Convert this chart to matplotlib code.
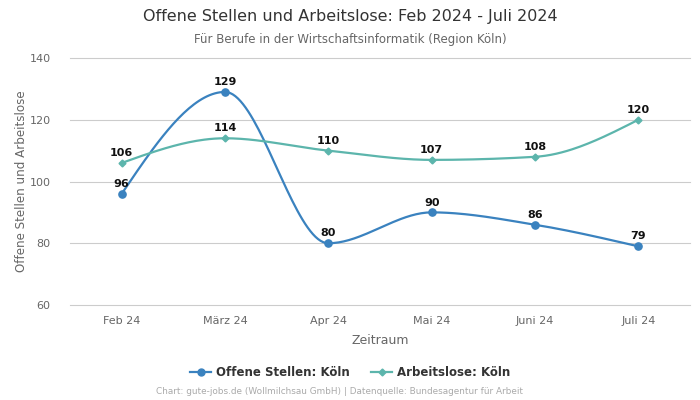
import numpy as np
import matplotlib
matplotlib.use("Agg")
import matplotlib.pyplot as plt
from matplotlib.lines import Line2D

months = ["Feb 24", "März 24", "Apr 24", "Mai 24", "Juni 24", "Juli 24"]
offene = [96, 129, 80, 90, 86, 79]
arbeitslose = [106, 114, 110, 107, 108, 120]
yticks = [60, 80, 100, 120, 140]

BLUE = "#3a82bf"
TEAL = "#5cb5ac"


def monotone(x, y, n=40):
    x = np.asarray(x, float)
    y = np.asarray(y, float)
    m = len(x)
    h = np.diff(x)
    s = np.diff(y) / h
    t = np.zeros(m)
    for i in range(1, m - 1):
        p = (s[i - 1] * h[i] + s[i] * h[i - 1]) / (h[i - 1] + h[i])
        t[i] = (np.sign(s[i - 1]) + np.sign(s[i])) * min(abs(s[i - 1]), abs(s[i]), 0.5 * abs(p))
    t[0] = (3 * s[0] - t[1]) / 2
    t[-1] = (3 * s[-1] - t[-2]) / 2
    xs, ys = [], []
    for i in range(m - 1):
        u = np.linspace(0, 1, n, endpoint=(i == m - 2))
        hh = h[i]
        h00 = 2 * u**3 - 3 * u**2 + 1
        h10 = u**3 - 2 * u**2 + u
        h01 = -2 * u**3 + 3 * u**2
        h11 = u**3 - u**2
        xs.append(x[i] + u * hh)
        ys.append(h00 * y[i] + h10 * hh * t[i] + h01 * y[i + 1] + h11 * hh * t[i + 1])
    return np.concatenate(xs), np.concatenate(ys)


fig = plt.figure(figsize=(7, 4), dpi=100)
ax = fig.add_axes([70 / 700, 1 - 305 / 400, 620 / 700, 247 / 400])

x = np.arange(len(months))
for vals, col, mk, ms in [(offene, BLUE, "o", 5.2), (arbeitslose, TEAL, "D", 3.5)]:
    sx, sy = monotone(x, vals)
    ax.plot(sx, sy, color=col, lw=1.6, zorder=3)
    ax.plot(x, vals, ls="none", marker=mk, color=col, ms=ms, zorder=4)
    for xi, v in zip(x, vals):
        ax.annotate(str(v), (xi, v), xytext=(0, 3.5), textcoords="offset points",
                    ha="center", va="bottom", fontsize=8, fontweight="bold", color="#111111", zorder=5)

ax.set_xlim(-0.5, len(months) - 0.5)
ax.set_ylim(60, 140)
ax.set_yticks(yticks)
ax.set_xticks(x)
ax.set_xticklabels(months)
for yv in yticks:
    ax.axhline(yv, color="#cccccc", lw=0.8, zorder=0, clip_on=False)
for sp in ax.spines.values():
    sp.set_visible(False)
ax.tick_params(axis="both", length=0, labelsize=8, colors="#666666", pad=8)
ax.tick_params(axis="y", pad=14)
ax.set_xlabel("Zeitraum", fontsize=9, color="#666666", labelpad=6)
ax.set_ylabel("Offene Stellen und Arbeitslose", fontsize=8.6, color="#666666")
ax.yaxis.set_label_coords((28 - 70) / 620, 0.5)

fig.text(0.5, 1 - 17 / 400, "Offene Stellen und Arbeitslose: Feb 2024 - Juli 2024",
         ha="center", va="center", fontsize=11.5, color="#333333")
fig.text(0.5, 1 - 39 / 400, "Für Berufe in der Wirtschaftsinformatik (Region Köln)",
         ha="center", va="center", fontsize=8.5, color="#666666")

handles = [Line2D([0], [0], color=BLUE, marker="o", ms=5, lw=1.6),
           Line2D([0], [0], color=TEAL, marker="D", ms=3.5, lw=1.6)]
fig.legend(handles, ["Offene Stellen: Köln", "Arbeitslose: Köln"], loc="center",
           bbox_to_anchor=(0.5, 1 - 373 / 400), ncol=2, frameon=False,
           prop={"size": 8.5, "weight": "bold"}, labelcolor="#333333",
           handlelength=1.8, columnspacing=1.8, handletextpad=0.4)

fig.text(340 / 700, 1 - 392 / 400, "Chart: gute-jobs.de (Wollmilchsau GmbH) | Datenquelle: Bundesagentur für Arbeit",
         ha="center", va="center", fontsize=6.4, color="#aaaaaa")

fig.savefig("out.png", dpi=100)
